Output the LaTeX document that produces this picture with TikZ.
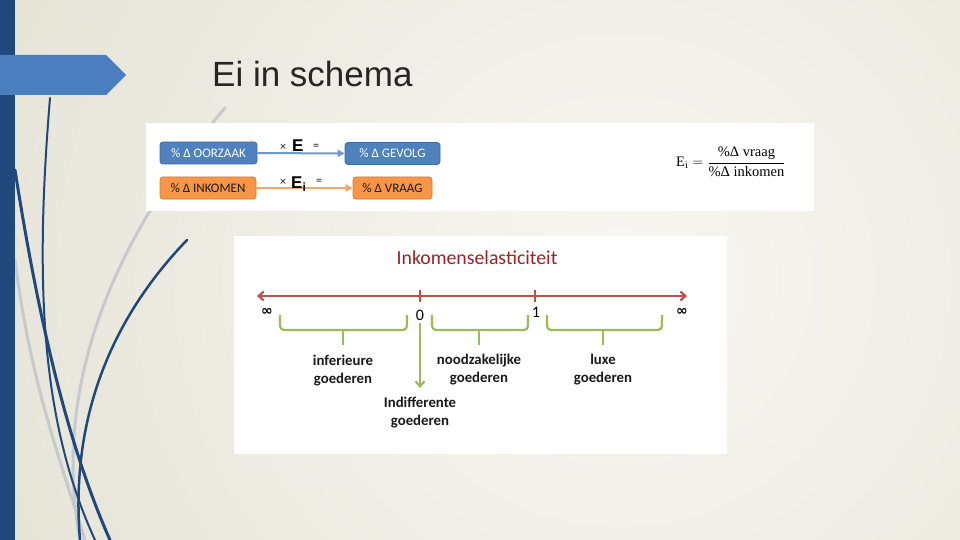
\documentclass[tikz,border=0pt]{standalone}
\usepackage{fontspec}
\usepackage{amsmath}
\setmainfont{Carlito}
\newfontfamily\titlefont{Liberation Sans}
\newfontfamily\seriffont{Liberation Serif}
\newfontfamily\symfont{DejaVu Sans}
\usetikzlibrary{arrows.meta}
\definecolor{bgout}{HTML}{E6E3D6}
\definecolor{bgin}{HTML}{F8F7F3}
\definecolor{navy}{HTML}{1F497D}
\definecolor{tabblue}{HTML}{4A7EBF}
\definecolor{curvegray}{HTML}{C6CACD}
\definecolor{boxblue}{HTML}{4F81BD}
\definecolor{boxblueedge}{HTML}{3C6BA5}
\definecolor{boxorange}{HTML}{F79646}
\definecolor{boxorangeedge}{HTML}{D97A30}
\definecolor{arrblue}{HTML}{6F97CA}
\definecolor{arrorange}{HTML}{F5A667}
\definecolor{axisred}{HTML}{C0504D}
\definecolor{titlered}{HTML}{9B2226}
\definecolor{brgreen}{HTML}{9BBB59}
\definecolor{txtdark}{HTML}{1A1A1A}
\tikzset{
  panel/.style={fill=white, draw=none},
  bluebox/.style={rectangle, rounded corners=3pt, fill=boxblue, draw=boxblueedge, line width=0.8pt,
     text=white, inner sep=0pt, minimum height=22pt, font=\fontsize{13}{14}\selectfont},
  orangebox/.style={rectangle, rounded corners=3pt, fill=boxorange, draw=boxorangeedge, line width=0.8pt,
     text=txtdark, inner sep=0pt, minimum height=22pt, font=\fontsize{13}{14}\selectfont},
  flowarrow/.style={line width=2pt, -{Triangle[length=7pt,width=7pt]}},
  smallsym/.style={inner sep=0pt, font=\fontsize{12}{12}\selectfont, text=txtdark},
  bigE/.style={inner sep=0pt, font=\titlefont\bfseries\fontsize{17}{17}\selectfont, text=black},
  axisline/.style={axisred, line width=2.2pt, {Straight Barb[length=5pt,width=9pt]}-{Straight Barb[length=5pt,width=9pt]}},
  tick/.style={axisred, line width=1.6pt},
  numlbl/.style={inner sep=0pt, font=\fontsize{16}{16}\selectfont, text=black},
  inflbl/.style={inner sep=0pt, font=\symfont\bfseries\fontsize{14}{14}\selectfont, text=black},
  bracepath/.style={brgreen, line width=2.2pt, rounded corners=4pt},
  garrow/.style={brgreen, line width=2.2pt, -{Straight Barb[length=5pt,width=9pt]}},
  goodlbl/.style={inner sep=0pt, align=center, text=txtdark, font=\bfseries\fontsize{14.8}{18}\selectfont},
  deco/.style={navy, line cap=round},
  decogray/.style={curvegray, line cap=round}
}
\begin{document}
\begin{tikzpicture}[x=1pt,y=-1pt]
\useasboundingbox (0,0) rectangle (960,540);
% background
\fill[bgout] (0,0) rectangle (960,540);
\begin{scope}
\clip (0,0) rectangle (960,540);
\shade[inner color=bgin, outer color=bgout] (-80,-400) rectangle (1320,960);
\end{scope}
% decorative curves
\draw[decogray, line width=3pt] (225,108) .. controls (120,230) and (50,380) .. (80,540);
\draw[decogray, line width=3pt] (15,260) .. controls (30,380) and (60,460) .. (85,540);
\draw[deco, line width=2pt] (50,98) .. controls (35,280) and (40,420) .. (95,540);
\draw[deco, line width=3pt] (15,170) .. controls (40,330) and (70,450) .. (110,540);
\draw[deco, line width=2.5pt] (187,240) .. controls (110,320) and (70,420) .. (80,540);
% left bar and tab
\fill[navy] (0,0) rectangle (15,540);
\fill[tabblue] (0,55) -- (106,55) -- (126,75) -- (106,95) -- (0,95) -- cycle;
% title
\node[anchor=base west, inner sep=0pt, text={rgb,255:red,38;green,38;blue,38}, font=\titlefont\fontsize{35}{40}\selectfont] (title) at (212,87) {Ei in schema};
% panel 1
\node[panel, minimum width=668pt, minimum height=88pt, inner sep=0pt] (p1) at (480,167) {};
\node[bluebox, minimum width=97pt] (oorzaak) at (208.5,153) {\%~Δ OORZAAK};
\node[bluebox, minimum width=95pt] (gevolg) at (392.5,153.5) {\%~Δ GEVOLG};
\node[orangebox, minimum width=96pt] (inkomen) at (208,188) {\%~Δ INKOMEN};
\node[orangebox, minimum width=79pt] (vraag) at (392.5,188) {\%~Δ VRAAG};
\draw[flowarrow, arrblue] (oorzaak) -- (gevolg);
\draw[flowarrow, arrorange] (inkomen) -- (vraag);
\node[smallsym] (x1) at (283,147) {×};
\node[bigE, anchor=base west] (E1) at (292,151.5) {E};
\node[smallsym] (eq1) at (316,147) {=};
\node[smallsym] (x2) at (283,182) {×};
\node[bigE, anchor=base west] (E2) at (291,188) {E\raisebox{-3pt}{\fontsize{12}{12}\selectfont i}};
\node[smallsym] (eq2) at (319,182) {=};
\node[inner sep=0pt, anchor=west, font=\seriffont\fontsize{14.5}{16}\selectfont] (formula) at (676,162)
  {$\text{E}_{\text{i}} = \dfrac{\text{\%Δ vraag}}{\text{\%Δ inkomen}}$};
% panel 2
\node[panel, minimum width=493pt, minimum height=218pt, inner sep=0pt] (p2) at (480.5,345) {};
\node[inner sep=0pt, text=titlered, font=\fontsize{19.8}{20}\selectfont] (ptitle) at (477,258) {Inkomenselasticiteit};
\coordinate (axL) at (257,296);
\coordinate (axR) at (687,296);
\draw[axisline] (axL) -- (axR);
\draw[tick] (420,290) -- (420,302);
\draw[tick] (535,290) -- (535,302);
\node[inflbl] (infL) at (267,312) {∞};
\node[numlbl] (zero) at (420,315) {0};
\node[numlbl] (one) at (536,312) {1};
\node[inflbl] (infR) at (682,312) {∞};
% braces
\draw[bracepath] (280,315) -- (280,330) -- (407,330) -- (407,315);
\draw[bracepath] (343,330) -- (343,345);
\draw[bracepath] (432,315) -- (432,330) -- (528,330) -- (528,315);
\draw[bracepath] (479,330) -- (479,345);
\draw[bracepath] (547,315) -- (547,330) -- (662,330) -- (662,315);
\draw[bracepath] (603,330) -- (603,345);
\coordinate (g0) at (420,323);
\coordinate (g1) at (420,388);
\draw[garrow] (g0) -- (g1);
\node[goodlbl] (inf) at (343,371) {inferieure\\goederen};
\node[goodlbl] (nood) at (479,370) {noodzakelijke\\goederen};
\node[goodlbl] (luxe) at (603,370) {luxe\\goederen};
\node[goodlbl] (indiff) at (420,412.5) {Indifferente\\goederen};
\end{tikzpicture}
\end{document}
